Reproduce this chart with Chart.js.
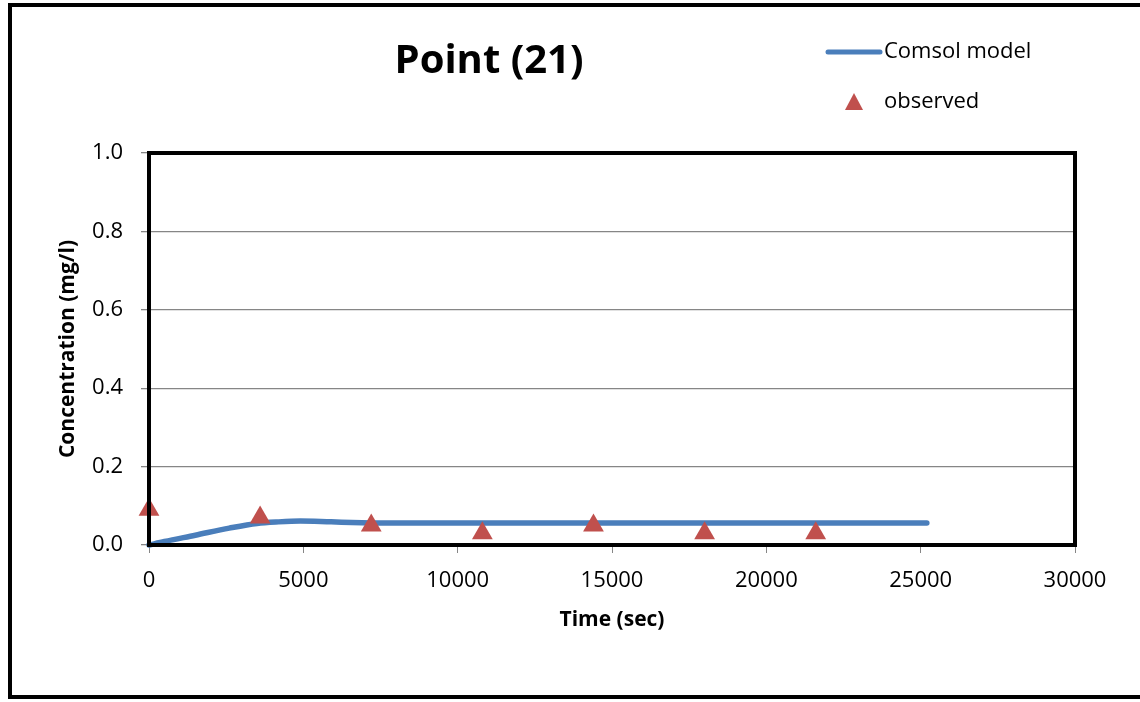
<!DOCTYPE html>
<html>
<head>
<meta charset="utf-8">
<script src="https://cdn.jsdelivr.net/npm/chart.js@4/dist/chart.umd.min.js"></script>
<style>
  html, body { margin: 0; padding: 0; background: #fff; }
  #wrap { width: 1140px; height: 702px; position: relative; }
</style>
</head>
<body>
<div id="wrap"><canvas id="chart" width="1140" height="702"></canvas></div>
<script>
// ---- data ----
const modelTime = [0, 500, 1500, 2600, 3500, 4200, 4900, 5900, 6900, 8000, 10000, 15000, 20000, 25200];
const modelConc = [0, 0.009, 0.025, 0.043, 0.055, 0.059, 0.061, 0.059, 0.057, 0.056, 0.056, 0.056, 0.056, 0.056];

const obsTime = [0, 3600, 7200, 10800, 14400, 18000, 21600];
const obsConc = [0.09, 0.07, 0.05, 0.03, 0.05, 0.03, 0.03];

const xTicks = [0, 5000, 10000, 15000, 20000, 25000, 30000];
const yTicks = [0, 0.2, 0.4, 0.6, 0.8, 1.0];

const chartTitle = 'Point (21)';
const xTitle = 'Time (sec)';
const yTitle = 'Concentration (mg/l)';
const seriesNames = ['Comsol model', 'observed'];

const BLUE = '#4A7EBB';
const RED = '#C0504D';
const FONT = '"Open Sans", "DejaVu Sans", sans-serif';

// plot box + outer frame, title and legend
const decorPlugin = {
    id: 'decor',
    afterDraw(chart) {
        const ctx = chart.ctx;
        const a = chart.chartArea;
        ctx.save();
        // plot border
        ctx.strokeStyle = '#000';
        ctx.lineWidth = 4;
        ctx.strokeRect(a.left, a.top, a.right - a.left, a.bottom - a.top);
        // outer frame
        ctx.lineWidth = 4;
        ctx.strokeRect(10, 5, 1140, 692);

        // title
        ctx.fillStyle = '#000';
        ctx.font = 'bold 40px ' + FONT;
        ctx.textAlign = 'center';
        ctx.textBaseline = 'middle';
        ctx.fillText(chartTitle, 489, 62);

        // legend
        ctx.strokeStyle = BLUE;
        ctx.lineWidth = 5;
        ctx.lineCap = 'round';
        ctx.beginPath();
        ctx.moveTo(828, 52);
        ctx.lineTo(880, 52);
        ctx.stroke();

        ctx.fillStyle = RED;
        ctx.beginPath();
        ctx.moveTo(854, 93);
        ctx.lineTo(863, 110);
        ctx.lineTo(845, 110);
        ctx.closePath();
        ctx.fill();

        ctx.fillStyle = '#000';
        ctx.font = '22px ' + FONT;
        ctx.textAlign = 'left';
        ctx.fillText(seriesNames[0], 884, 52);
        ctx.fillText(seriesNames[1], 884, 102);
        ctx.restore();
    }
};

new Chart(document.getElementById('chart'), {
    type: 'scatter',
    data: {
        datasets: [
            {
                label: seriesNames[0],
                type: 'line',
                data: modelTime.map((t, i) => ({ x: t, y: modelConc[i] })),
                borderColor: BLUE,
                borderWidth: 5.5,
                borderCapStyle: 'round',
                pointRadius: 0,
                cubicInterpolationMode: 'monotone',
                fill: false,
                order: 2
            },
            {
                label: seriesNames[1],
                data: obsTime.map((t, i) => ({ x: t, y: obsConc[i] })),
                pointStyle: 'triangle',
                pointRadius: 12,
                backgroundColor: RED,
                borderColor: RED,
                borderWidth: 0,
                order: 1
            }
        ]
    },
    options: {
        responsive: false,
        animation: false,
        clip: false,
        layout: { padding: { left: 0, top: 153, right: 65, bottom: 0 } },
        plugins: {
            legend: { display: false },
            title: { display: false },
            tooltip: { enabled: false }
        },
        scales: {
            x: {
                type: 'linear',
                min: 0,
                max: 30000,
                afterFit(scale) { scale.height = 157; },
                afterBuildTicks(scale) { scale.ticks = xTicks.map(v => ({ value: v })); },
                grid: {
                    drawOnChartArea: false,
                    drawTicks: true,
                    tickLength: 8,
                    color: '#868686'
                },
                border: { display: false },
                ticks: {
                    color: '#000',
                    padding: 15,
                    maxRotation: 0,
                    font: { family: FONT, size: 22 },
                    callback: v => String(v)
                },
                title: {
                    display: true,
                    text: xTitle,
                    color: '#000',
                    font: { family: FONT, size: 21, weight: 'bold' },
                    padding: { top: 0, bottom: 69 }
                }
            },
            y: {
                type: 'linear',
                min: 0,
                max: 1,
                afterFit(scale) { scale.width = 149; },
                afterBuildTicks(scale) { scale.ticks = yTicks.map(v => ({ value: v })); },
                grid: {
                    drawTicks: true,
                    tickLength: 8,
                    color: '#868686',
                    lineWidth: 1.3
                },
                border: { display: false },
                ticks: {
                    color: '#000',
                    padding: 18,
                    font: { family: FONT, size: 22 },
                    callback: v => Number(v).toFixed(1)
                },
                title: {
                    display: true,
                    text: yTitle,
                    color: '#000',
                    font: { family: FONT, size: 21, weight: 'bold' },
                    padding: { top: 55, bottom: 0 }
                }
            }
        }
    },
    plugins: [decorPlugin]
});
</script>
</body>
</html>
